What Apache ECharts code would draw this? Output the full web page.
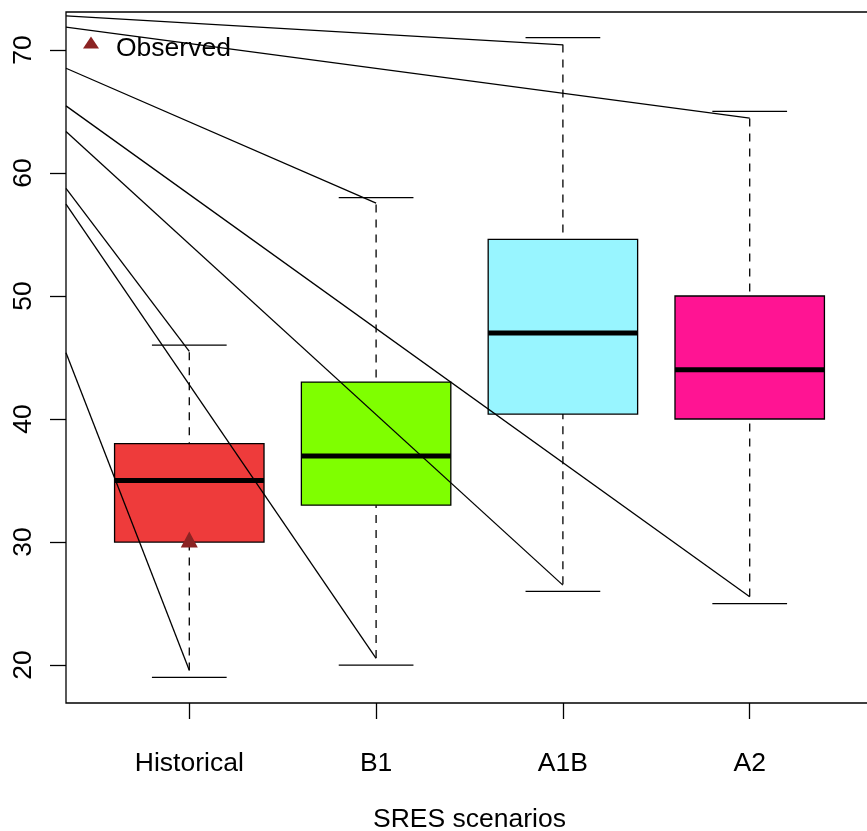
<!DOCTYPE html>
<html>
<head>
<meta charset="utf-8">
<script src="https://cdn.jsdelivr.net/npm/echarts@6/dist/echarts.min.js"></script>
<style>
  html, body { margin: 0; padding: 0; background: #fff; }
  #chart { width: 867px; height: 831px; }
</style>
</head>
<body>
<div id="chart"></div>
<script>
// ---- data ----
const categories   = ['Historical', 'B1', 'A1B', 'A2'];
const whiskerLow   = [19, 20, 26, 25];
const quartile1    = [30, 33, 40.4, 40];
const medians      = [35, 37, 47, 44];
const quartile3    = [38, 43, 54.6, 50];
const whiskerHigh  = [46, 58, 71, 65];
const observed     = [30];            // Historical observed value
const leaderStart  = [72.76, 71.85, 68.51, 65.45, 63.36, 58.75, 57.46, 45.39];
const leaderEndCat = [3, 4, 2, 4, 3, 1, 2, 1];
const leaderEnd    = [70.41, 64.45, 57.54, 25.55, 26.5, 45.5, 20.54, 19.59];
const yTicks       = [20, 30, 40, 50, 60, 70];

// ---- styles ----
const boxColors = ['#EE3B3B', '#7FFF00', '#98F5FF', '#FF1493'];
const FONT = 'Liberation Sans, Arial, Helvetica, sans-serif';
const FS = 26.5;
const X_MIN = 0.34, X_MAX = 4.66, Y_MIN = 16.92, Y_MAX = 73.08;

const boxData = categories.map((c, i) => [i + 1, whiskerLow[i], quartile1[i], medians[i], quartile3[i], whiskerHigh[i]]);
const leaderData = leaderStart.map((s, i) => ({ coords: [[X_MIN, s], [leaderEndCat[i], leaderEnd[i]]] }));

function renderBox(params, api) {
  const x = api.value(0), lo = api.value(1), q1 = api.value(2), md = api.value(3), q3 = api.value(4), hi = api.value(5);
  const c = (a, b) => api.coord([a, b]);
  const pLo = c(x, lo), pQ1 = c(x, q1), pMd = c(x, md), pQ3 = c(x, q3), pHi = c(x, hi);
  const bl = c(x - 0.4, 0)[0], br = c(x + 0.4, 0)[0];
  const sl = c(x - 0.2, 0)[0], sr = c(x + 0.2, 0)[0];
  const dash = { stroke: '#000', lineWidth: 1.3, lineDash: [8, 7], lineDashOffset: 8 };
  const solid = { stroke: '#000', lineWidth: 1.3 };
  return {
    type: 'group',
    children: [
      { type: 'line', shape: { x1: pHi[0], y1: pHi[1], x2: pQ3[0], y2: pQ3[1] }, style: dash },
      { type: 'line', shape: { x1: pLo[0], y1: pLo[1], x2: pQ1[0], y2: pQ1[1] }, style: dash },
      { type: 'line', shape: { x1: sl, y1: pHi[1], x2: sr, y2: pHi[1] }, style: solid },
      { type: 'line', shape: { x1: sl, y1: pLo[1], x2: sr, y2: pLo[1] }, style: solid },
      { type: 'rect', shape: { x: bl, y: pQ3[1], width: br - bl, height: pQ1[1] - pQ3[1] },
        style: { fill: boxColors[params.dataIndex], stroke: '#000', lineWidth: 1.3 } },
      { type: 'line', shape: { x1: bl, y1: pMd[1], x2: br, y2: pMd[1] }, style: { stroke: '#000', lineWidth: 5 } }
    ]
  };
}

const chart = echarts.init(document.getElementById('chart'), null, { renderer: 'canvas' });
chart.setOption({
  animation: false,
  backgroundColor: '#fff',
  textStyle: { fontFamily: FONT, color: '#000' },
  grid: {
    left: 66, top: 12, width: 807, height: 691,
    show: true, borderColor: '#000', borderWidth: 1.3, backgroundColor: 'transparent',
    containLabel: false, outerBoundsMode: 'none'
  },
  legend: {
    left: 83, top: 35.5, padding: 0, itemWidth: 16, itemHeight: 12,
    data: [{ name: 'Observed', icon: 'triangle' }],
    itemStyle: { opacity: 1 },
    formatter: '{t|{name}}',
    textStyle: {
      fontFamily: FONT, fontSize: FS, color: '#000', padding: [0, 0, 0, 12],
      rich: { t: { fontFamily: FONT, fontSize: FS, color: '#000', padding: [13, 0, 0, 0] } }
    }
  },
  xAxis: {
    type: 'value', min: X_MIN, max: X_MAX,
    axisLine: { show: false }, splitLine: { show: false },
    axisTick: { show: true, customValues: [1, 2, 3, 4], length: 16, lineStyle: { color: '#000', width: 1.3 } },
    axisLabel: { customValues: [1, 2, 3, 4], formatter: v => categories[Math.round(v) - 1], margin: 47,
      fontFamily: FONT, fontSize: FS, color: '#000' },
    name: 'SRES scenarios', nameLocation: 'middle', nameGap: 103,
    nameTextStyle: { fontFamily: FONT, fontSize: FS, color: '#000' }
  },
  yAxis: {
    type: 'value', min: Y_MIN, max: Y_MAX,
    axisLine: { show: false }, splitLine: { show: false },
    axisTick: { show: true, customValues: yTicks, length: 16, lineStyle: { color: '#000', width: 1.3 } },
    axisLabel: { customValues: yTicks, rotate: 90, margin: 29, fontFamily: FONT, fontSize: FS, color: '#000' }
  },
  series: [
    {
      type: 'custom', name: 'boxes', renderItem: renderBox, data: boxData, z: 2,
      encode: { x: 0, y: [1, 2, 3, 4, 5] }
    },
    {
      type: 'lines', name: 'leaders', coordinateSystem: 'cartesian2d', z: 3,
      lineStyle: { color: '#000', width: 1.3, opacity: 1, curveness: 0 },
      data: leaderData
    },
    {
      type: 'scatter', name: 'Observed', z: 4,
      symbol: 'triangle', symbolSize: [17, 16], symbolOffset: [0, -2.6],
      itemStyle: { color: '#8B2323', opacity: 1 },
      data: observed.map(v => [1, v])
    }
  ]
});
</script>
</body>
</html>
